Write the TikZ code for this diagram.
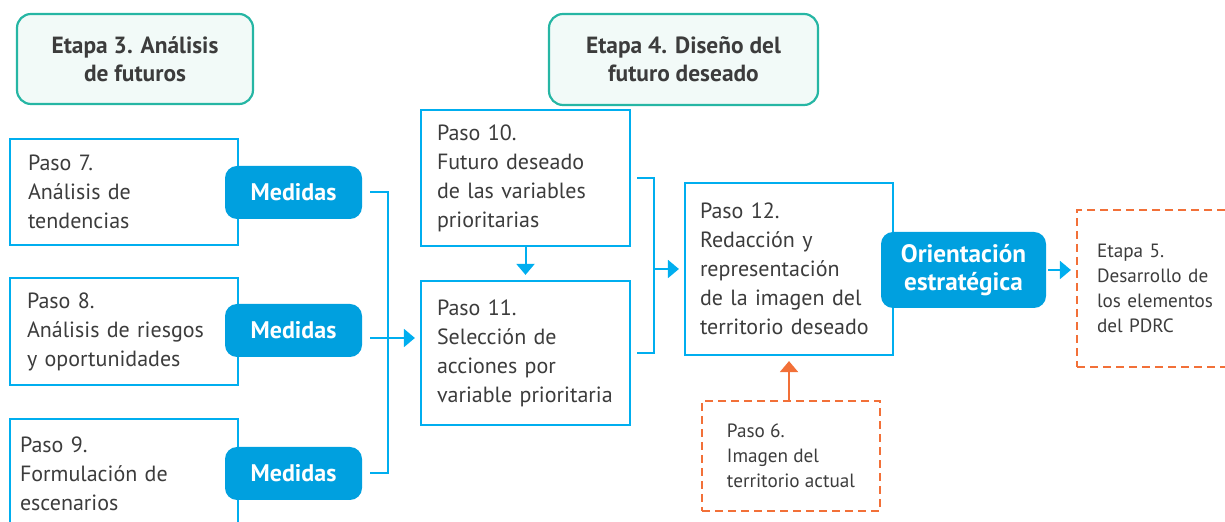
\documentclass[tikz,border=0pt]{standalone}
\usepackage{fontspec}
\setmainfont{PT Sans}
\usetikzlibrary{positioning, arrows.meta}
\definecolor{azul}{RGB}{0,174,239}
\definecolor{azulfondo}{RGB}{0,160,223}
\definecolor{verde}{RGB}{38,182,164}
\definecolor{verdefondo}{RGB}{242,250,248}
\definecolor{naranja}{RGB}{242,112,56}
\definecolor{texto}{RGB}{60,60,60}

\begin{document}
\begin{tikzpicture}[x=0.5pt, y=-0.5pt, text=texto,
    font=\fontsize{11}{14.5}\selectfont,
    paso/.style={draw=azul, line width=1.1pt, fill=white, align=left, inner ysep=0pt},
    externo/.style={draw=naranja, line width=1.1pt, dashed, dash pattern=on 4pt off 2.5pt,
        align=left, inner ysep=0pt, font=\fontsize{9.6}{12.5}\selectfont},
    etapa/.style={draw=verde, fill=verdefondo, line width=1.1pt, rounded corners=7pt,
        align=center, font=\bfseries\fontsize{11.7}{14}\selectfont},
    medida/.style={fill=azulfondo, rounded corners=6pt, text=white, align=center,
        font=\bfseries\fontsize{12}{14}\selectfont},
    enlace/.style={draw=azul, line width=1pt},
    flecha/.style={enlace, -{Triangle[length=5.5pt, width=9pt]}, shorten >=2.5pt}]
    \useasboundingbox (0,0) rectangle (1225,522);

    % etapas
    \node[etapa, minimum width=118pt, minimum height=45pt] (etapa3) at (135,59) {Etapa 3. Análisis\\de futuros};
    \node[etapa, minimum width=134.5pt, minimum height=45.5pt] (etapa4) at (683.5,59.5) {Etapa 4. Diseño del\\futuro deseado};

    % pasos
    \node[paso, text width=96pt, inner xsep=9pt, minimum height=53pt] (paso7) at (124,192) {Paso 7.\\Análisis de\\tendencias};
    \node[paso, text width=97pt, inner xsep=8.5pt, minimum height=53.5pt] (paso8) at (124,331.5) {Paso 8.\\Análisis de riesgos\\y oportunidades};
    \node[paso, text width=104pt, inner xsep=5pt, minimum height=55pt] (paso9) at (124,474) {Paso 9.\\Formulación de\\escenarios};
    \node[paso, text width=88.5pt, inner xsep=8pt, minimum height=68pt] (paso10) at (525.5,178) {Paso 10.\\Futuro deseado\\de las variables\\prioritarias};
    \node[paso, text width=88.5pt, inner xsep=8pt, minimum height=72pt] (paso11) at (525.5,353) {Paso 11.\\Selección de\\acciones por\\variable prioritaria};
    \node[paso, text width=89pt, inner xsep=7.5pt, minimum height=86pt] (paso12) at (789,269) {Paso 12.\\Redacción y\\representación\\de la imagen del\\territorio deseado};
    \node[externo, minimum width=89pt, minimum height=55pt] (paso6) at (791,456) {Paso 6.\\Imagen del\\territorio actual};
    \node[externo, text width=72pt, inner xsep=10pt, minimum height=78.5pt] (etapa5) at (1169,288.5) {Etapa 5.\\Desarrollo de\\los elementos\\del PDRC};

    % medidas
    \node[medida, minimum width=68.5pt, minimum height=26.5pt] (medidas1) at (293.5,192.5) {Medidas};
    \node[medida, minimum width=68.5pt, minimum height=26.5pt] (medidas2) at (293.5,330.5) {Medidas};
    \node[medida, minimum width=68.5pt, minimum height=26.5pt] (medidas3) at (293.5,473.5) {Medidas};
    \node[medida, minimum width=82.5pt, minimum height=38pt, font=\bfseries\fontsize{12.6}{14}\selectfont] (orientacion) at (963.5,270) {Orientación\\estratégica};

    \coordinate (union1) at (388,338);
    \coordinate (union2) at (654,269);

    \draw[enlace] ([xshift=4pt]medidas1.east) -| (union1) |- ([xshift=4pt]medidas3.east);
    \draw[enlace] ([xshift=4pt]medidas2.east |- union1) -- (union1);
    \draw[flecha] (union1) -- (paso11.west |- union1);
    \draw[flecha] (paso10) -- (paso11);
    \draw[enlace] ([xshift=3pt]paso10.east) -| (union2) |- ([xshift=3pt]paso11.east);
    \draw[flecha] (union2) -- (paso12);
    \draw[flecha, draw=naranja] (paso6.north -| paso12.south) -- (paso12.south);
    \draw[flecha, shorten <=1pt] (orientacion.east) -- (orientacion.east -| etapa5.west);
\end{tikzpicture}
\end{document}
